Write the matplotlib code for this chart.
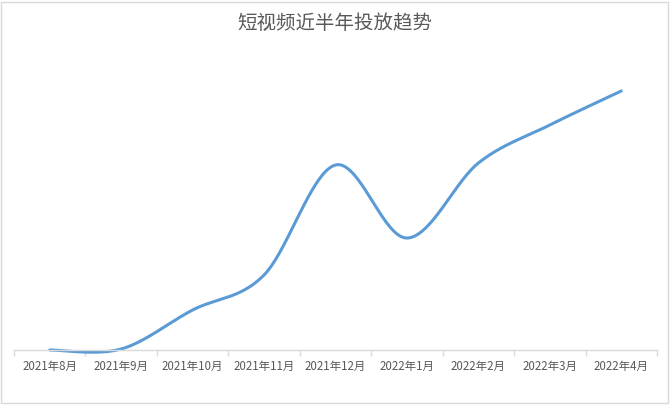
import numpy as np
import matplotlib.pyplot as plt
from matplotlib.patches import Rectangle

plt.rcParams['font.family'] = ['Noto Sans CJK SC', 'DejaVu Sans']

# data (units unknown, relative heights)
months = ['2021年8月', '2021年9月', '2021年10月', '2021年11月', '2021年12月',
          '2022年1月', '2022年2月', '2022年3月', '2022年4月']
spend = [0, 1, 40, 75, 185, 112, 187, 225, 259]


def smooth(x, y, n=40):
    # Excel style smoothing: bezier segments with catmull-rom control points
    x = np.asarray(x, float)
    y = np.asarray(y, float)
    px = np.concatenate([[x[0]], x, [x[-1]]])
    py = np.concatenate([[y[0]], y, [y[-1]]])
    t = np.linspace(0, 1, n)[:, None]
    out = []
    for i in range(1, len(px) - 2):
        p0 = np.array([px[i], py[i]])
        p3 = np.array([px[i + 1], py[i + 1]])
        p1 = p0 + (np.array([px[i + 1], py[i + 1]]) - np.array([px[i - 1], py[i - 1]])) / 6
        p2 = p3 - (np.array([px[i + 2], py[i + 2]]) - np.array([px[i], py[i]])) / 6
        seg = ((1 - t) ** 3) * p0 + 3 * ((1 - t) ** 2) * t * p1 + 3 * (1 - t) * t ** 2 * p2 + t ** 3 * p3
        out.append(seg)
    pts = np.vstack(out)
    return pts[:, 0], pts[:, 1]


fig = plt.figure(figsize=(6.71, 4.05), dpi=100)
ax = fig.add_axes([14 / 671, 55 / 405, 643 / 671, 300 / 405])

xs = np.arange(len(months))
sx, sy = smooth(xs, spend)
ax.plot(sx, sy, color='#5B9BD5', linewidth=2.2, clip_on=False,
        solid_capstyle='round')

ax.set_xlim(-0.5, len(months) - 0.5)
ax.set_ylim(0, 300)
ax.set_yticks([])
ax.set_xticks(xs)
ax.set_xticklabels(months, fontsize=8.3, color='#595959')
ax.set_xticks(np.arange(-0.5, len(months)), minor=True)
ax.tick_params(axis='x', which='major', length=0, pad=7)
ax.tick_params(axis='x', which='minor', length=4, color='#d9d9d9', width=1)

for side in ['top', 'right', 'left']:
    ax.spines[side].set_visible(False)
ax.spines['bottom'].set_color('#d9d9d9')
ax.spines['bottom'].set_linewidth(1)

fig.text(335 / 671, 1 - 23 / 405, '短视频近半年投放趋势', ha='center', va='center',
         fontsize=14, color='#595959')

fig.patches.append(Rectangle((0.5 / 671, 2 / 405), 667 / 671, 401 / 405,
                             transform=fig.transFigure, fill=False,
                             edgecolor='#d9d9d9', linewidth=1))

fig.savefig('out.png', dpi=100)
